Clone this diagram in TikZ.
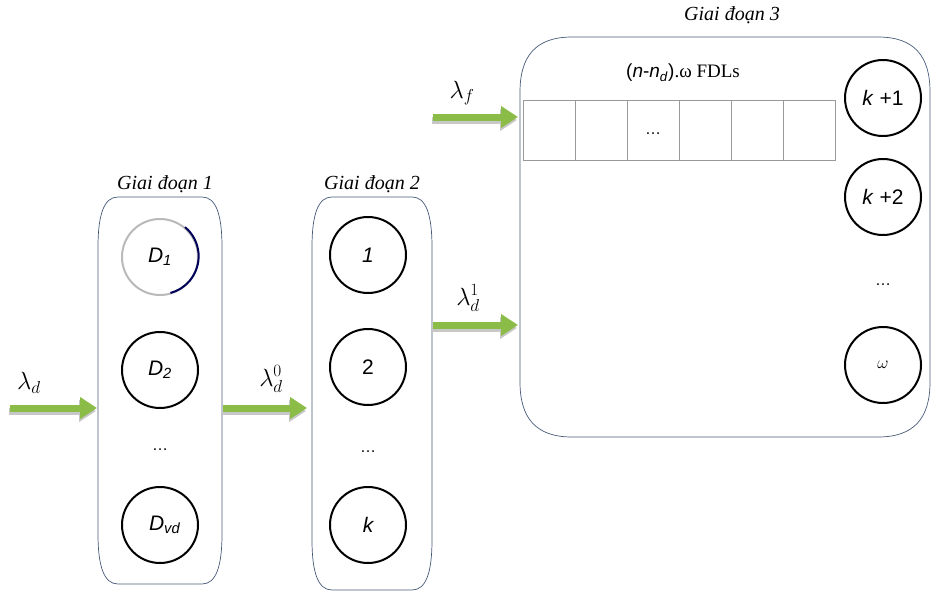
\documentclass[tikz,border=0pt]{standalone}
\usepackage{fontspec}
\setmainfont{Liberation Serif}
\newfontfamily\arialf{Liberation Sans}
\usetikzlibrary{arrows.meta}
\definecolor{flowgreen}{RGB}{140,188,72}
\definecolor{boxblue}{RGB}{70,90,120}
\tikzset{
	boxline/.style={draw=boxblue, line width=.7pt},
	srv/.style={circle, draw, line width=2pt, minimum size=76pt, inner sep=0pt, font=\arialf\fontsize{21}{24}\selectfont},
	cell/.style={draw=gray!80, line width=.6pt, minimum width=52pt, minimum height=60pt, inner sep=0pt, font=\arialf\fontsize{16}{18}\selectfont},
	stagettl/.style={font=\itshape\fontsize{20}{24}\selectfont},
	lam/.style={font=\fontsize{27}{30}\selectfont},
	flow/.style={draw=flowgreen, line width=7pt, -{Triangle[length=17pt,width=21pt]},
		preaction={draw=black!22, line width=7pt, -{Triangle[length=17pt,width=21pt]}, transform canvas={xshift=-1pt,yshift=-3pt}}}
}
% left, top, right, bottom, corner rx, corner ry
\newcommand{\stagebox}[6]{%
	\draw[boxline] (#1,#2+#6) .. controls (#1,#2+.35*#6) and (#1+.3*#5,#2) .. (#1+#5,#2)
	-- (#3-#5,#2) .. controls (#3-.3*#5,#2) and (#3,#2+.35*#6) .. (#3,#2+#6)
	-- (#3,#4-#6) .. controls (#3,#4-.35*#6) and (#3-.3*#5,#4) .. (#3-#5,#4)
	-- (#1+#5,#4) .. controls (#1+.3*#5,#4) and (#1,#4-.35*#6) .. (#1,#4-#6) -- cycle;}
\begin{document}
\begin{tikzpicture}[x=1pt,y=-1pt]
	\useasboundingbox (0,0) rectangle (933,592);
	
	% stages
	\stagebox{98}{197}{222}{584}{20}{50}
	\stagebox{312}{197}{432}{590}{20}{50}
	\stagebox{520}{37}{930}{437}{52}{55}
	\node[stagettl] (t1) at (165,184) {Giai đoạn 1};
	\node[stagettl] (t2) at (372,184) {Giai đoạn 2};
	\node[stagettl] (t3) at (732,15) {Giai đoạn 3};
	
	% stage 1
	\node[srv, draw=gray!55] (D1) at (160,257) {\itshape D\textsubscript{1}};
	\draw[blue!35!black, line width=2pt] (D1.50) arc (-50:75:38);
	\node[srv] (D2) at (160,370) {\itshape D\textsubscript{2}};
	\node[font=\arialf\fontsize{16}{18}\selectfont] (dots1) at (160,450) {\dots};
	\node[srv] (Dvd) at (160,525) {\itshape\ \,D\textsubscript{vd}};
	
	% stage 2
	\node[srv] (s1) at (368,255) {\itshape 1};
	\node[srv] (s2) at (368,367) {2};
	\node[font=\arialf\fontsize{16}{18}\selectfont] (dots2) at (368,452) {\dots};
	\node[srv] (sk) at (368,525) {\itshape k};
	
	% stage 3
	\node (fdl) at (683,73) {\fontsize{19}{22}\selectfont{\arialf(\textit{n}-\textit{n}\textsubscript{\textit{d}})}.ω FDLs};
	\foreach \i in {0,...,5}
		\node[cell] (c\i) at (549+\i*52,130) {};
	\node[font=\arialf\fontsize{16}{18}\selectfont] at ([yshift=-4pt]c2.center) {\dots};
	\node[srv] (sk1) at (883,98) {\textit{k} +1};
	\node[srv] (sk2) at (883,197) {\textit{k} +2};
	\node[font=\arialf\fontsize{16}{18}\selectfont] (dots3) at (883,285) {\dots};
	\node[srv] (sw) at (883,365) {\fontsize{17}{20}\selectfont$\omega$};
	
	% flows
	\coordinate (i0) at (10,408);
	\coordinate (e1) at (97,408);
	\coordinate (o1) at (223,408);
	\coordinate (e2) at (307,408);
	\coordinate (o2) at (433,325);
	\coordinate (e3) at (518,325);
	\coordinate (if) at (433,117);
	\coordinate (ef) at (518,117);
	\draw[flow] (i0) -- (e1);
	\draw[flow] (o1) -- (e2);
	\draw[flow] (o2) -- (e3);
	\draw[flow] (if) -- (ef);
	\node[lam] (ld) at (29,383) {$\lambda_d$};
	\node[lam] (ld0) at (271,379) {$\lambda_d^0$};
	\node[lam] (ld1) at (468,298) {$\lambda_d^1$};
	\node[lam] (lf) at (462,93) {$\lambda_f$};
\end{tikzpicture}
\end{document}
